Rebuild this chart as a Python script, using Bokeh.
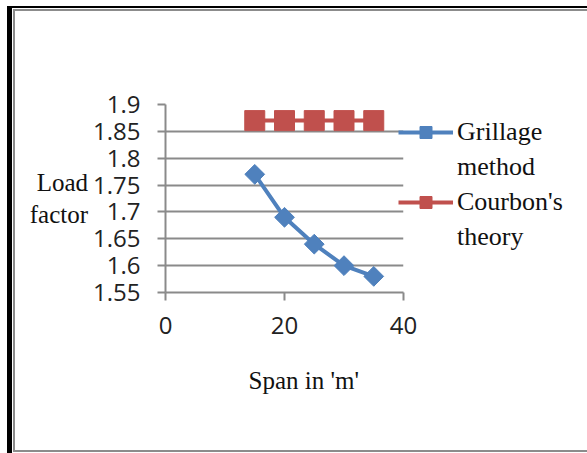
import math
from bokeh.plotting import figure
from bokeh.models import Range1d, FixedTicker, Legend, LegendItem, Title
from bokeh.embed import file_html
from bokeh.resources import INLINE

# ---- data ----
span = [15, 20, 25, 30, 35]
grillage = [1.77, 1.69, 1.64, 1.60, 1.58]
courbon = [1.87, 1.87, 1.87, 1.87, 1.87]
x_ticks = [0, 20, 40]
y_ticks = [1.55, 1.6, 1.65, 1.7, 1.75, 1.8, 1.85, 1.9]
y_tick_labels = ["1.55", "1.6", "1.65", "1.7", "1.75", "1.8", "1.85", "1.9"]
series_names = [["Grillage", "method"], ["Courbon's", "theory"]]
x_title = "Span in 'm'"
y_title = "Load\nfactor"

BLUE = "#4F81BD"
RED = "#C0504D"
GRAY = "#8a8a8a"
TICK_FONT = "Open Sans"
SERIF = "Liberation Serif"

frame_css = ", ".join([
    "inset 0 6px 0 0 white",
    "inset 7px 0 0 0 white",
    "inset 12px 0 0 0 black",
    "inset 0 8px 0 0 black",
    "inset 13px 0 0 0 white",
    "inset 0 9px 0 0 white",
    "inset 0 -1px 0 0 white",
    "inset 15px 0 0 0 #8c8c8c",
    "inset 0 11px 0 0 #8c8c8c",
    "inset 0 -3px 0 0 #8c8c8c",
])

p = figure(width=587, height=453, frame_width=238, frame_height=188,
           output_backend="svg", toolbar_location=None,
           x_range=Range1d(0, 40), y_range=Range1d(1.55, 1.9),
           min_border_left=165, min_border_right=184,
           min_border_top=104, min_border_bottom=161)
p.outline_line_color = None
p.background_fill_color = "white"
p.border_fill_alpha = 0
p.styles = {"box-shadow": frame_css, "background-color": "white"}

# grids
p.xgrid.visible = False
p.ygrid.ticker = FixedTicker(ticks=y_ticks)
p.ygrid.grid_line_color = GRAY
p.ygrid.grid_line_width = 2

# axes
for ax in (p.xaxis, p.yaxis):
    ax.axis_line_color = GRAY
    ax.axis_line_width = 2
    ax.major_tick_line_color = GRAY
    ax.major_tick_line_width = 2
    ax.major_tick_out = 8
    ax.major_tick_in = 0
    ax.minor_tick_line_color = None
    ax.major_label_text_font = TICK_FONT
    ax.major_label_text_font_size = "24px"
    ax.major_label_text_color = "#222222"
    ax.axis_label_text_font = SERIF
    ax.axis_label_text_font_size = "25px"
    ax.axis_label_text_font_style = "normal"
    ax.axis_label_text_color = "#111111"

p.xaxis.ticker = FixedTicker(ticks=x_ticks)
p.xaxis.major_label_standoff = 16

p.yaxis.ticker = FixedTicker(ticks=y_ticks)
p.yaxis.major_label_overrides = {t: l for t, l in zip(y_ticks, y_tick_labels)}
p.yaxis.major_label_standoff = 17
p.yaxis.axis_label = y_title
p.yaxis.axis_label_orientation = "horizontal"
p.yaxis.axis_label_standoff = 2
p.yaxis.axis_label_text_align = "right"

# x axis title (shifted right of centre as in the original)
xt = Title(text=x_title, align="left", offset=83, standoff=57,
           text_font=SERIF, text_font_size="25px", text_font_style="normal",
           text_color="#111111")
p.add_layout(xt, "below")

# series
l1 = p.line(span, grillage, line_color=BLUE, line_width=4)
m1 = p.scatter(span, grillage, marker="square", size=14, angle=math.pi / 4,
               fill_color=BLUE, line_color=BLUE)
l2 = p.line(span, courbon, line_color=RED, line_width=4)
m2 = p.scatter(span, courbon, marker="square", size=20,
               fill_color=RED, line_color=RED)

legend = Legend(items=[LegendItem(label=series_names[0][0], renderers=[l1, m1]),
                       LegendItem(label=series_names[0][1], renderers=[]),
                       LegendItem(label=series_names[1][0], renderers=[l2, m2]),
                       LegendItem(label=series_names[1][1], renderers=[])],
                location=(-5, 40),
                padding=0, margin=0, spacing=5, border_line_color=None,
                background_fill_alpha=0, glyph_width=55, glyph_height=30,
                label_standoff=4, label_text_font=SERIF,
                label_text_font_size="26px", label_text_color="#111111",
                label_text_line_height=1.15)
p.add_layout(legend, "right")

open("out.html", "w").write(file_html(p, INLINE))
